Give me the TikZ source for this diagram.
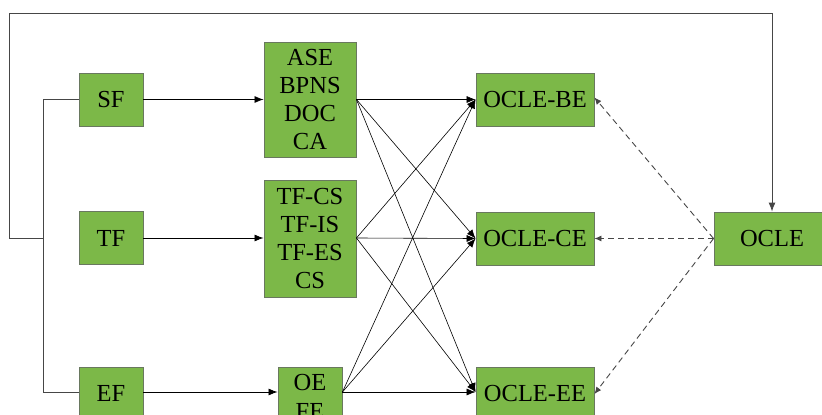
\documentclass[tikz,border=0pt]{standalone}
\usepackage{fontspec}
\setmainfont{Liberation Serif}
\usetikzlibrary{arrows.meta}
\definecolor{boxgreen}{RGB}{124,184,72}
\definecolor{boxedge}{RGB}{105,120,95}
\definecolor{linegray}{RGB}{70,70,70}
\tikzset{
  box/.style={draw=boxedge, line width=0.9pt, fill=boxgreen, inner sep=0pt,
    align=center, font=\fontsize{24.5}{28.3}\selectfont},
  flow/.style={draw=black, line width=0.8pt, -{Latex[length=9pt,width=7pt]}},
  link/.style={draw=linegray, line width=0.9pt},
  dash link/.style={draw=linegray, line width=0.9pt, dash pattern=on 6pt off 4pt,
    -{Latex[length=7pt,width=6pt]}},
}
\begin{document}
\begin{tikzpicture}[x=1pt,y=-1pt]
\useasboundingbox (0,0) rectangle (822,415);
% factor boxes
\node[box, minimum width=64pt, minimum height=53pt] (sf) at (111,99.5) {SF};
\node[box, minimum width=64pt, minimum height=53pt] (tf) at (111,238) {TF};
\node[box, minimum width=64pt, minimum height=53pt] (ef) at (111,393.5) {EF};
% indicator boxes
\node[box, minimum width=92pt, minimum height=115pt] (ind1) at (310,99.5) {ASE\\BPNS\\DOC\\CA};
\node[box, minimum width=92pt, minimum height=117pt] (ind2) at (310,238.5) {TF-CS\\TF-IS\\TF-ES\\CS};
\node[box, minimum width=64pt, minimum height=60pt] (ind3) at (310,397) {OE\\FE};
% outcome boxes
\node[box, minimum width=118pt, minimum height=53pt] (be) at (535,99.5) {OCLE-BE};
\node[box, minimum width=118pt, minimum height=53pt] (ce) at (535,238.5) {OCLE-CE};
\node[box, minimum width=118pt, minimum height=53pt] (ee) at (535,393.5) {OCLE-EE};
\node[box, minimum width=116pt, minimum height=53pt] (ocle) at (772,238.5) {OCLE};
% branching bus on the left
\coordinate (bt) at (43,99.5);
\coordinate (bm) at (43,238);
\coordinate (bb) at (43,392);
\coordinate (fl) at (9,238);
\coordinate (tl) at (9,13);
\coordinate (tr) at (772,13);
\draw[link] (sf.west) -- (bt) -- (bb) -- (bb -| ef.west);
\draw[link] (bm) -- (fl) -- (tl) -- (tr);
\draw[link, -{Latex[length=9pt,width=7pt]}] (tr) -- (ocle.north);
% factors to indicators
\draw[flow] (sf.east) -- (ind1.west |- sf.east);
\draw[flow] (tf.east) -- (ind2.west |- tf.east);
\draw[flow] (ef.east |- bb) -- (ind3.west |- bb);
% indicators to outcomes
\coordinate (o1) at (ind1.east |- sf.east);
\coordinate (o2) at (ind2.east |- tf.east);
\coordinate (o3) at (ind3.east |- bb);
\foreach \s in {o1,o2,o3}{
  \draw[flow, line width=0.6pt] (\s) -- (be.west);
  \draw[flow, line width=0.6pt] (\s) -- (ce.west);
  \draw[flow, line width=0.6pt] (\s) -- (ee.west |- bb);
}
% OCLE to its components
\draw[dash link] (ocle.west) -- ([yshift=2pt]be.east);
\draw[dash link] (ocle.west) -- (ce.east);
\draw[dash link] (ocle.west) -- ([yshift=-2pt]ee.east |- bb);
\end{tikzpicture}
\end{document}
